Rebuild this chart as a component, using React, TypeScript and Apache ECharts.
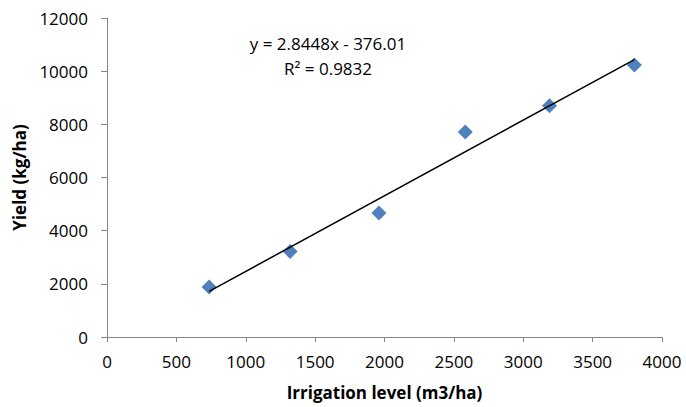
import React, { useEffect, useRef } from "react";
import * as echarts from "echarts";

const irrigation = [736, 1320, 1960, 2582, 3189, 3801];
const yieldValues = [1881, 3220, 4664, 7711, 8700, 10231];
const slope = 2.8448;
const intercept = -376.01;
const equationText = "y = 2.8448x - 376.01";
const r2Text = "R² = 0.9832";
const xTitle = "Irrigation level (m3/ha)";
const yTitle = "Yield (kg/ha)";

export default function App() {
  const ref = useRef<HTMLDivElement>(null);
  useEffect(() => {
    if (!ref.current) return;
    const chart = echarts.init(ref.current, undefined, { renderer: "svg" });
    const font = "'Open Sans', 'Noto Sans', sans-serif";
    const xMin = Math.min(...irrigation);
    const xMax = Math.max(...irrigation);
    const trend = [
      [xMin, slope * xMin + intercept],
      [xMax, slope * xMax + intercept],
    ];
    const axisLine = { show: true, lineStyle: { color: "#868686", width: 1 } };
    const plain = (v: number) => String(v);
    chart.setOption({
      animation: false,
      backgroundColor: "#ffffff",
      grid: { left: 107, right: 24, top: 18, bottom: 70, containLabel: false },
      xAxis: {
        type: "value",
        min: 0,
        max: 4000,
        interval: 500,
        name: xTitle,
        nameLocation: "middle",
        nameGap: 47,
        nameTextStyle: { fontFamily: font, fontSize: 17, fontWeight: "bold", color: "#000" },
        axisLine,
        axisTick: { show: true, length: 5, lineStyle: { color: "#868686" } },
        axisLabel: { fontFamily: font, fontSize: 17, color: "#000", margin: 16, formatter: plain },
        splitLine: { show: false },
      },
      yAxis: {
        type: "value",
        min: 0,
        max: 12000,
        interval: 2000,
        name: yTitle,
        nameLocation: "middle",
        nameGap: 77,
        nameTextStyle: { fontFamily: font, fontSize: 17, fontWeight: "bold", color: "#000" },
        axisLine,
        axisTick: { show: true, length: 6, lineStyle: { color: "#868686" } },
        axisLabel: { fontFamily: font, fontSize: 17, color: "#000", margin: 19, formatter: plain },
        splitLine: { show: false },
      },
      series: [
        {
          type: "line",
          data: trend,
          symbol: "none",
          lineStyle: { color: "#000", width: 1.5 },
          silent: true,
          z: 3,
        },
        {
          type: "scatter",
          data: irrigation.map((x, i) => [x, yieldValues[i]]),
          symbol: "diamond",
          symbolSize: [15, 15],
          itemStyle: { color: "#4F81BD", opacity: 1 },
          z: 2,
        },
      ],
      graphic: [
        {
          type: "text",
          x: 328,
          y: 43,
          style: { text: equationText, fontFamily: font, fontSize: 17, fill: "#000", align: "center", verticalAlign: "middle" },
        },
        {
          type: "text",
          x: 328,
          y: 68,
          style: { text: r2Text, fontFamily: font, fontSize: 17, fill: "#000", align: "center", verticalAlign: "middle" },
        },
      ],
    });
    return () => chart.dispose();
  }, []);
  return <div ref={ref} style={{ width: 686, height: 407, position: "absolute", left: 0, top: 0 }} />;
}
